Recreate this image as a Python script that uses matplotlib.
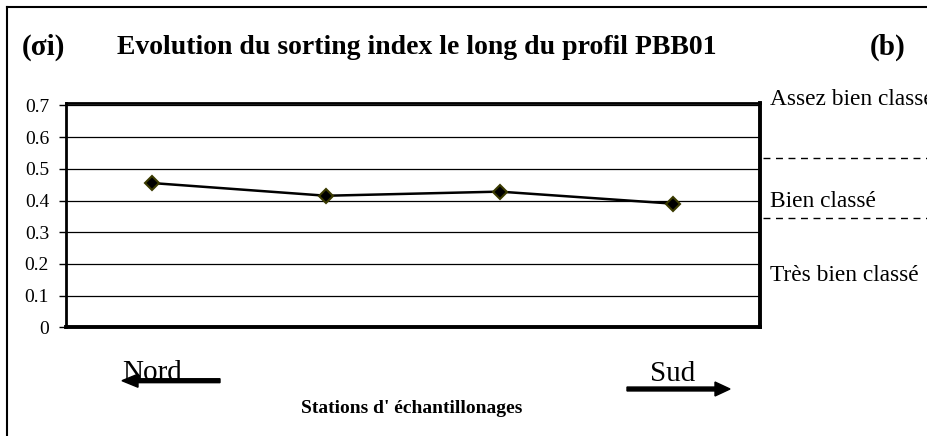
import matplotlib
matplotlib.use("Agg")
import matplotlib.pyplot as plt
from matplotlib.lines import Line2D
from matplotlib.patches import FancyArrow

plt.rcParams['font.family'] = ['Liberation Serif', 'DejaVu Serif']

# Sorting index (sigma i) at each sampling station, north to south
stations = ['St1', 'St2', 'St3', 'St4']
sorting_index = [0.455, 0.415, 0.428, 0.390]
y_ticks = [0, 0.1, 0.2, 0.3, 0.4, 0.5, 0.6, 0.7]
y_tick_labels = ['0', '0.1', '0.2', '0.3', '0.4', '0.5', '0.6', '0.7']

# Sorting classes written to the right of the plot
class_labels = ['Assez bien classé', 'Bien classé', 'Très bien classé']

W, H = 927, 436
fig = plt.figure(figsize=(W / 100, H / 100), dpi=100)
fig.patch.set_facecolor('white')


def fx(px):
    return px / W


def fy(py):
    return 1 - py / H


ax = fig.add_axes([fx(65.7), fy(327.3), fx(760) - fx(65.7), fy(103.5) - fy(327.3)])

x = list(range(len(stations)))
ax.plot(x, sorting_index, color='black', lw=1.8, marker='D', ms=7,
        markerfacecolor='black', markeredgecolor='#3a3a00', markeredgewidth=1.5,
        zorder=5, clip_on=False)

ax.set_xlim(-0.5, len(stations) - 0.5)
ax.set_ylim(0, 0.706)
ax.set_yticks(y_ticks)
ax.set_yticklabels(y_tick_labels, fontsize=14)
ax.set_xticks([])
ax.tick_params(axis='y', direction='out', length=5, width=1, pad=7)

for v in y_ticks[1:]:
    ax.axhline(v, color='black', lw=0.9, zorder=1)

ax.spines['left'].set_linewidth(2)
ax.spines['top'].set_linewidth(2)
ax.spines['right'].set_linewidth(2.8)
ax.spines['bottom'].set_linewidth(2.8)

# outer frame (left and top edges only)
fig.add_artist(Line2D([fx(7), fx(7)], [fy(7), 0], color='black', lw=1.5))
fig.add_artist(Line2D([fx(7), 1], [fy(7), fy(7)], color='black', lw=1.5))

# titles
fig.text(fx(417), fy(47), 'Evolution du sorting index le long du profil PBB01',
         ha='center', va='center', fontsize=20, fontweight='bold')
fig.text(fx(22), fy(47), '(σi)', ha='left', va='center', fontsize=21, fontweight='bold')
fig.text(fx(870), fy(47), '(b)', ha='left', va='center', fontsize=21, fontweight='bold')

# sorting class boundaries and labels
for py in [158.3, 217.7]:
    fig.add_artist(Line2D([fx(763), 1], [fy(py), fy(py)], color='black', lw=1,
                          linestyle=(0, (5, 4))))
for label, py in zip(class_labels, [105, 206.5, 281]):
    fig.text(fx(770), fy(py), label, ha='left', va='baseline', fontsize=16.8)

# direction arrows
fig.text(fx(122), fy(380), 'Nord', ha='left', va='baseline', fontsize=21)
fig.add_artist(FancyArrow(fx(220), fy(380.7), fx(122) - fx(220), 0, width=0.009,
                          head_width=0.03, head_length=fx(16), length_includes_head=True,
                          color='black', transform=fig.transFigure))
fig.text(fx(650), fy(381), 'Sud', ha='left', va='baseline', fontsize=21)
fig.add_artist(FancyArrow(fx(627), fy(389), fx(730) - fx(627), 0, width=0.009,
                          head_width=0.032, head_length=fx(15), length_includes_head=True,
                          color='black', transform=fig.transFigure))

fig.text(fx(412), fy(408), "Stations d' échantillonages", ha='center', va='center',
         fontsize=14, fontweight='bold')

fig.savefig('out.png', dpi=100)
